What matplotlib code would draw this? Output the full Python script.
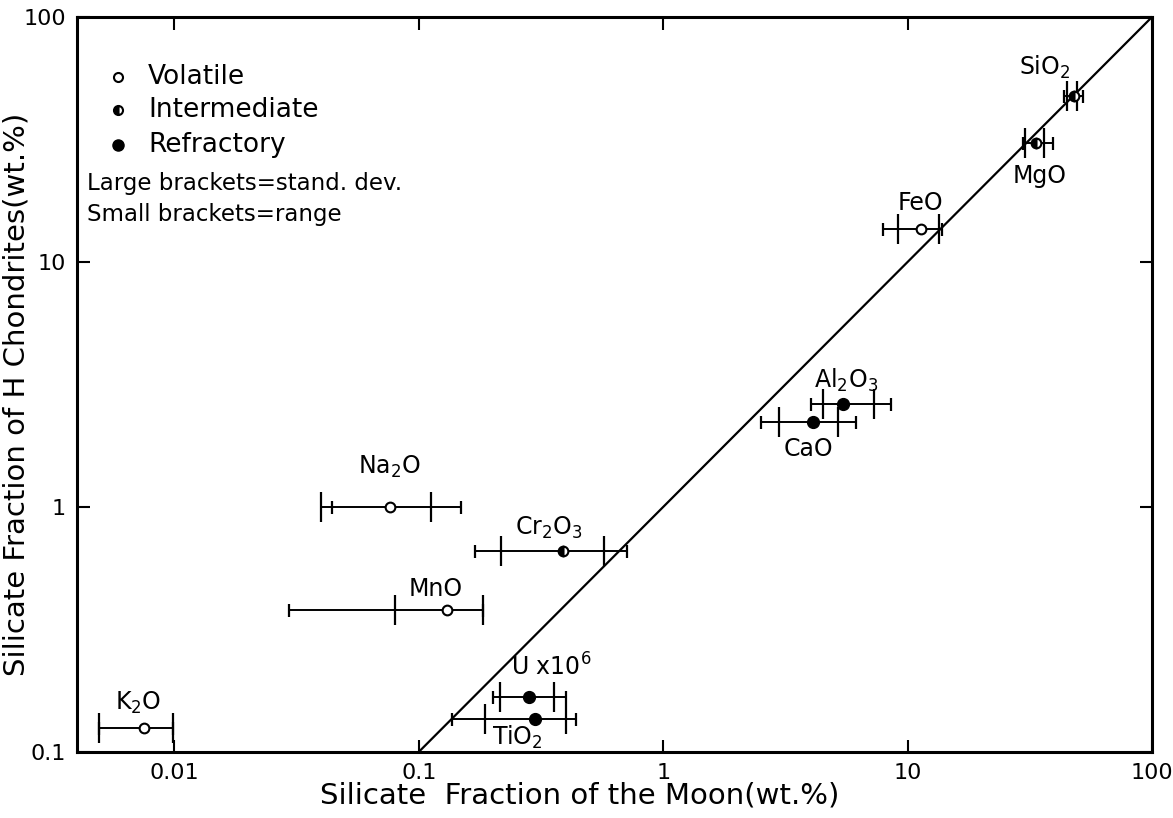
import matplotlib
matplotlib.use("Agg")
import matplotlib.pyplot as plt
from matplotlib.ticker import FixedLocator, FixedFormatter, NullLocator

plt.rcParams['font.family'] = ['DejaVu Sans']
plt.rcParams['mathtext.fontset'] = 'dejavusans'

# ---- data ----
labels = [r'K$_2$O', r'Na$_2$O', r'MnO', r'Cr$_2$O$_3$', r'U x10$^6$', r'TiO$_2$',
          r'CaO', r'Al$_2$O$_3$', r'FeO', r'MgO', r'SiO$_2$']
moon = [0.0075, 0.076, 0.131, 0.39, 0.283, 0.30, 4.11, 5.46, 11.4, 33.6, 48.1]
chondrite = [0.125, 1.0, 0.38, 0.66, 0.168, 0.136, 2.22, 2.63, 13.6, 30.6, 47.6]
sd_low = [0.0049, 0.040, 0.080, 0.217, 0.215, 0.187, 2.98, 4.52, 9.1, 30.2, 45.0]
sd_high = [0.0099, 0.112, 0.183, 0.575, 0.358, 0.40, 5.21, 7.31, 13.4, 36.1, 49.4]
range_low = [0.0049, 0.044, 0.0295, 0.17, 0.201, 0.137, 2.51, 4.04, 7.97, 29.8, 43.7]
range_high = [0.0099, 0.149, 0.183, 0.71, 0.40, 0.44, 6.18, 8.59, 13.8, 39.5, 52.4]
classes = ['vol', 'vol', 'vol', 'int', 'ref', 'ref', 'ref', 'ref', 'vol', 'int', 'int']
# label offsets in pixels (dx, dy) relative to the point
label_offsets = [(-6, 25), (0, 40), (-12, 21), (-14, 23), (22, 30), (-18, -18),
                 (-5, -27), (3, 24), (-1, 26), (3, -33), (-30, 29)]

x_ticks = [0.01, 0.1, 1, 10, 100]
x_ticklabels = ['0.01', '0.1', '1', '10', '100']
y_ticks = [0.1, 1, 10, 100]
y_ticklabels = ['0.1', '1', '10', '100']
one_to_one = [0.1, 100]

legend_names = ['Volatile', 'Intermediate', 'Refractory']
legend_classes = ['vol', 'int', 'ref']

PX = 0.72  # points per pixel at dpi 100

fig = plt.figure(figsize=(11.73, 8.18), dpi=100)
ax = fig.add_axes([77/1173, 1-752/818, (1152-77)/1173, (752-17)/818])
ax.set_xscale('log')
ax.set_yscale('log')
ax.set_xlim(0.004, 100)
ax.set_ylim(0.1, 100)

ax.plot(one_to_one, one_to_one, color='black', lw=1.6, zorder=2)


def marker_style(cls, size):
    if cls == 'vol':
        return dict(marker='o', ms=size, mfc='white', mec='black', mew=1.5)
    if cls == 'int':
        return dict(marker='o', ms=size, fillstyle='left', mfc='black',
                    mfcalt='white', mec='black', mew=1.5)
    return dict(marker='o', ms=size + 1.5, mfc='black', mec='black', mew=1.0)


for i in range(len(moon)):
    lo = min(sd_low[i], range_low[i])
    hi = max(sd_high[i], range_high[i])
    y = chondrite[i]
    ax.plot([lo, hi], [y, y], color='black', lw=1.4, zorder=3)
    ax.plot([sd_low[i], sd_high[i]], [y, y], ls='none', marker='|',
            ms=30 * PX, mew=1.6, color='black', zorder=3)
    ax.plot([range_low[i], range_high[i]], [y, y], ls='none', marker='|',
            ms=13 * PX, mew=1.6, color='black', zorder=3)
    ax.plot([moon[i]], [y], ls='none', zorder=4, **marker_style(classes[i], 7))
    dx, dy = label_offsets[i]
    ax.annotate(labels[i], (moon[i], y), xytext=(dx * PX, dy * PX),
                textcoords='offset points', ha='center', va='center',
                fontsize=17, zorder=5)

# legend drawn as text
leg_y = [0.918, 0.873, 0.826]
for name, cls, yy in zip(legend_names, legend_classes, leg_y):
    ax.plot([0.038], [yy], transform=ax.transAxes, ls='none',
            **marker_style(cls, 6.5))
    ax.text(0.066, yy, name, transform=ax.transAxes, fontsize=19,
            ha='left', va='center')
ax.text(0.009, 0.774, 'Large brackets=stand. dev.', transform=ax.transAxes,
        fontsize=16.5, ha='left', va='center')
ax.text(0.009, 0.731, 'Small brackets=range', transform=ax.transAxes,
        fontsize=16.5, ha='left', va='center')

ax.xaxis.set_major_locator(FixedLocator(x_ticks))
ax.xaxis.set_major_formatter(FixedFormatter(x_ticklabels))
ax.yaxis.set_major_locator(FixedLocator(y_ticks))
ax.yaxis.set_major_formatter(FixedFormatter(y_ticklabels))
ax.xaxis.set_minor_locator(NullLocator())
ax.yaxis.set_minor_locator(NullLocator())
ax.tick_params(direction='in', length=9, width=1.5, top=True, right=True,
               labelsize=16, pad=8)
for s in ax.spines.values():
    s.set_linewidth(2.2)

ax.set_xlabel('Silicate  Fraction of the Moon(wt.%)', fontsize=21)
ax.xaxis.set_label_coords(0.468, -0.040)
ax.set_ylabel('Silicate Fraction of H Chondrites(wt.%)', fontsize=21)
ax.yaxis.set_label_coords(-0.043, 0.486)

fig.savefig('out.png', dpi=100)
